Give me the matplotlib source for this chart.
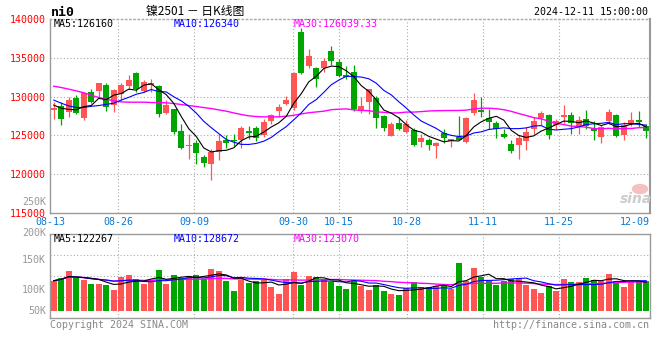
import numpy as np
import pandas as pd
import matplotlib
matplotlib.use('Agg')
import matplotlib.pyplot as plt
from matplotlib.patches import Ellipse

# ni0 daily K-line, 2024-08-13 .. 2024-12-11 (80 trading days)
opens = [128250, 128770, 128030, 129880, 127300, 130570, 130740, 131470, 128890, 130310,
         131390, 132980, 130740, 131520, 131350, 127910, 128340, 125580, 123610, 124080,
         122230, 121370, 122870, 124380, 124470, 124470, 125580, 125970, 125020, 126870,
         128160, 129110, 128590, 138350, 133970, 133710, 133750, 135860, 134400, 132760,
         133190, 128120, 129320, 129840, 127480, 124940, 126620, 125450, 125670, 124160,
         124380, 123650, 125300, 124230, 124790, 124150, 127860, 128290, 127270, 126580,
         125210, 123930, 123720, 124270, 125770, 127220, 127690, 126280, 127350, 127690,
         126200, 127140, 125980, 124790, 126800, 127690, 125000, 126410, 127010, 126240]
highs = [129320, 129320, 129970, 130180, 130610, 131040, 131780, 131690, 131040, 131780,
         132760, 133110, 132120, 132330, 131470, 129540, 128460, 126530, 125240, 124470,
         122440, 123300, 125150, 125020, 125240, 126190, 126190, 126190, 127050, 127820,
         129110, 130060, 133190, 138780, 136080, 133840, 134910, 136510, 134790, 133930,
         134050, 129970, 131040, 130060, 127600, 126740, 127390, 126960, 125970, 125240,
         124720, 124160, 125850, 124570, 127560, 127350, 130470, 129920, 128420, 126920,
         125850, 124360, 125000, 126070, 127350, 128080, 127780, 127140, 128980, 127990,
         127440, 128210, 126920, 126280, 128420, 127780, 126710, 127990, 128120, 126500]
lows = [127170, 126400, 127390, 127730, 126960, 129200, 129880, 128160, 128030, 129540,
        131040, 130610, 130610, 130610, 127390, 127820, 125150, 123300, 122010, 121370,
        120940, 119220, 121890, 123430, 123610, 123390, 124590, 124290, 124810, 126530,
        127390, 128890, 128250, 132890, 133710, 131260, 133190, 134050, 132550, 132210,
        128160, 127910, 127730, 125970, 125580, 124900, 125670, 125370, 123610, 123520,
        123180, 122140, 124020, 123500, 124360, 124020, 127650, 127350, 125850, 124660,
        124660, 122740, 121920, 123160, 125130, 126280, 124490, 125850, 126580, 125210,
        125210, 125850, 124360, 124020, 126500, 124790, 124360, 126150, 126070, 124660]
closes = [128590, 127090, 129540, 127910, 130400, 129320, 131690, 128680, 130830, 131470,
          132120, 131040, 131900, 131690, 127730, 128890, 125450, 123430, 123820, 122750,
          121460, 122870, 124250, 124080, 124340, 126010, 125330, 124720, 126740, 127600,
          128680, 129540, 133070, 132980, 135220, 132250, 134570, 134610, 132680, 132550,
          128460, 128770, 130920, 127260, 125970, 126440, 125800, 126440, 123730, 124680,
          123730, 124040, 124700, 124490, 124440, 127270, 129570, 127990, 126710, 125770,
          124790, 122990, 124700, 125430, 126800, 127860, 125000, 126920, 127650, 126580,
          127010, 126150, 125560, 126070, 127990, 124870, 126280, 127010, 126670, 125560]
# volume in thousand lots
volumes = [115.5, 120, 131, 120, 117, 110, 110, 109, 100.5, 121, 125.5, 118, 110, 117, 134,
           110, 125.5, 120, 124, 125.5, 118, 135.5, 131, 115.5, 99, 117, 111.5, 115.5, 117,
           105, 93, 118, 130, 109, 124, 121.5, 117, 113, 107, 101.5, 116.5, 106, 100.5, 109,
           99, 94, 92, 103, 113, 105, 105, 107, 110, 101.5, 145, 114.5, 136.5, 121, 114.5,
           108, 114.5, 118, 118, 108, 101.5, 95, 106, 99, 118, 113, 113, 120, 117, 114.5,
           126.5, 115.5, 105, 113, 115.5, 115.5]

# MA values before a full window is available
ma5_head = [128900, 128500, 128350, 128300]
ma10_head = [129550, 129150, 128800, 128600, 128600, 128750, 128850, 129000, 129150]
ma30_head = [131340, 131170, 130960, 130740, 130490, 130180, 129880, 129670, 129450, 129320,
             129280, 129280, 129280, 129240, 129240, 129200, 129110, 128980, 128850, 128720,
             128590, 128460, 128290, 128120, 127900, 127690, 127520, 127430, 127390]

tick_idx = [0, 9, 19, 32, 38, 47, 57, 67, 77]
tick_labels = ['08-13', '08-26', '09-09', '09-30', '10-15', '10-28', '11-11', '11-25', '12-09']

UP = '#ff5555'
DOWN = '#00a600'
GRID = '#aaaaaa'
EDGE = '#999999'
MONO = 'DejaVu Sans Mono'

df = pd.DataFrame({'o': opens, 'h': highs, 'l': lows, 'c': closes, 'v': volumes})
x = np.arange(len(df))


def ma(series, n, head):
    m = series.rolling(n).mean().values
    m[:len(head)] = head
    return m


ma5 = ma(df['c'], 5, ma5_head)
ma10 = ma(df['c'], 10, ma10_head)
ma30 = ma(df['c'], 30, ma30_head)
vma5 = df['v'].rolling(5, min_periods=1).mean()
vma10 = df['v'].rolling(10, min_periods=1).mean()
vma30 = df['v'].rolling(30, min_periods=1).mean()

up = df['c'] >= df['o']
colors = np.where(up, UP, DOWN)

W, H = 660, 360
fig = plt.figure(figsize=(6.6, 3.6), dpi=100)
fig.patch.set_facecolor('white')


def ptext(px, py, s, **kw):
    kw.setdefault('family', MONO)
    kw.setdefault('fontsize', 7.2)
    fig.text(px / W, 1 - py / H, s, **kw)


ax = fig.add_axes([50 / W, 1 - 213 / H, 600 / W, 194 / H])
axv = fig.add_axes([50 / W, 1 - 317.5 / H, 600 / W, 83.5 / H])

# grid x positions (sina spaces them on a slightly different scale)
gridx = [i * 80 / 79 - 0.5 for i in tick_idx]

for a in (ax, axv):
    a.set_xlim(-0.5, 79.5)
    for gx in gridx[1:-1]:
        a.axvline(gx, color=GRID, lw=0.8, ls=(0, (1, 2)), zorder=0)
    for s in ['left', 'right', 'bottom', 'top']:
        a.spines[s].set_color(EDGE)
        a.spines[s].set_linewidth(1.0)
    a.tick_params(length=0)

# ---- price panel
ax.set_ylim(115000, 140000)
for yv in [120000, 125000, 130000, 135000]:
    ax.axhline(yv, color=GRID, lw=0.8, ls=(0, (1, 2)), zorder=0)
ax.spines['top'].set_linestyle((0, (1, 2)))
ax.spines['top'].set_color(GRID)
ax.spines['right'].set_linewidth(1.5)

ax.vlines(x, df['l'], df['h'], colors=colors, lw=0.9, zorder=2)
body = np.maximum((df['c'] - df['o']).abs(), 110)
ax.bar(x, body, bottom=np.minimum(df['o'], df['c']), width=0.8, color=colors,
       linewidth=0, zorder=3)

ax.plot(x, ma30, color='#ff00ff', lw=1.0, zorder=4)
ax.plot(x, ma10, color='#0000ff', lw=0.8, zorder=4)
ax.plot(x, ma5, color='black', lw=0.8, zorder=5)

ax.set_yticks([115000, 120000, 125000, 130000, 135000, 140000])
ax.set_yticklabels(['115000', '120000', '125000', '130000', '135000', '140000'],
                   color='red', family=MONO, fontsize=7.2)
ax.tick_params(axis='y', pad=3)
ax.set_xticks(gridx)
ax.set_xticklabels(tick_labels, color='#0a78d2', family=MONO, fontsize=7.2)
ax.tick_params(axis='x', pad=3)

# ---- volume panel
vbase = 65
axv.set_ylim(54.2, 193.3)
for f in [0.25, 0.5, 0.75]:
    axv.axhline(54.2 + f * (193.3 - 54.2), color=GRID, lw=0.8, ls=(0, (1, 2)), zorder=0)
axv.bar(x, df['v'] - vbase, bottom=vbase, width=0.8, color=colors, linewidth=0, zorder=2)
axv.plot(x, vma30, color='#ff00ff', lw=1.0, zorder=3)
axv.plot(x, vma10, color='#0000ff', lw=0.8, zorder=3)
axv.plot(x, vma5, color='black', lw=0.8, zorder=4)
axv.set_xticks([])
axv.set_yticks([])

# volume axis labels
for lab, py in [('250K', 202), ('200K', 233), ('150K', 260), ('100K', 290), ('50K', 311)]:
    ptext(46, py, lab, color='#999999', ha='right', va='center')

# ---- header and legends
ptext(51, 12, 'ni0', fontsize=9.5, weight='bold', color='black', va='center')
ptext(195, 11, '镍2501 － 日K线图', family=['Noto Sans CJK SC', 'DejaVu Sans'],
      fontsize=8.5, color='black', ha='center', va='center')
ptext(648, 12, '2024-12-11 15:00:00', color='black', ha='right', va='center')

ptext(54, 24, 'MA5:126160', color='black', va='center')
ptext(174, 24, 'MA10:126340', color='#0000ff', va='center')
ptext(294, 24, 'MA30:126039.33', color='#ff00ff', va='center')

ptext(54, 239, 'MA5:122267', color='black', va='center')
ptext(174, 239, 'MA10:128672', color='#0000ff', va='center')
ptext(294, 239, 'MA30:123070', color='#ff00ff', va='center')

ptext(50, 325, 'Copyright 2024 SINA.COM', color='#888888', va='center')
ptext(649, 325, 'http://finance.sina.com.cn', color='#888888', ha='right', va='center')

# sina watermark
fig.add_artist(Ellipse((640 / W, 1 - 189 / H), 15 / W, 9 / H, color='#f6c0c0',
                       transform=fig.transFigure, zorder=1))
ptext(636, 199, 'sina', family='DejaVu Sans', fontsize=10, style='italic', weight='bold',
      color='#cccccc', ha='center', va='center')

fig.savefig('out.png', dpi=100)
